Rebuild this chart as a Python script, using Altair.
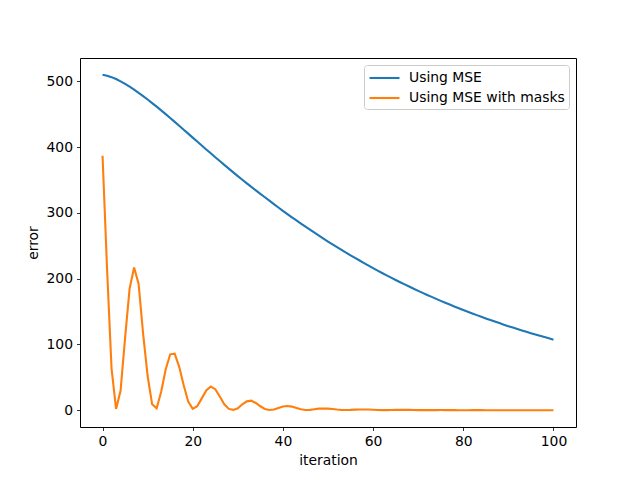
import altair as alt
import pandas as pd

iteration = list(range(101))

mse = [
    510.0, 508.6, 506.4, 503.5, 500.0, 496.2, 491.9, 487.4, 482.6, 477.6,
    472.4, 467.0, 461.5, 455.9, 450.1, 444.3, 438.4, 432.4, 426.5, 420.5,
    414.5, 408.5, 402.5, 396.5, 390.6, 384.7, 378.8, 373.0, 367.3, 361.6,
    356.0, 350.4, 344.9, 339.5, 334.2, 329.0, 323.8, 318.6, 313.4, 308.2,
    303.0, 298.1, 293.3, 288.5, 283.7, 279.0, 274.4, 269.9, 265.4, 260.9,
    256.5, 252.2, 248.0, 243.8, 239.6, 235.5, 231.5, 227.6, 223.7, 219.8,
    216.0, 212.3, 208.7, 205.1, 201.5, 198.0, 194.6, 191.3, 188.0, 184.7,
    181.5, 178.4, 175.3, 172.3, 169.3, 166.3, 163.4, 160.6, 157.8, 155.0,
    152.3, 149.7, 147.1, 144.6, 142.0, 139.5, 137.1, 134.8, 132.5, 130.1,
    127.8, 125.6, 123.5, 121.3, 119.2, 117.1, 115.1, 113.2, 111.2, 109.3,
    107.3,
]

mse_masks = [
    387.0, 215.0, 63.0, 2.0, 30.0, 110.0, 185.0, 217.0, 192.0, 116.0,
    52.0, 9.0, 3.0, 28.0, 62.0, 85.0, 86.0, 66.0, 38.0, 13.0,
    2.0, 6.0, 18.0, 30.0, 36.0, 32.0, 21.0, 9.0, 2.0, 0.5,
    3.0, 9.0, 13.5, 14.5, 11.0, 6.0, 2.0, 0.3, 1.0, 3.5,
    5.8, 6.5, 5.5, 3.5, 1.5, 0.4, 0.6, 1.5, 2.4, 2.7,
    2.5, 1.8, 1.0, 0.4, 0.3, 0.5, 0.9, 1.2, 1.2, 1.0,
    0.7, 0.4, 0.2, 0.2, 0.3, 0.5, 0.6, 0.6, 0.5, 0.3,
    0.2, 0.1, 0.1, 0.15, 0.2, 0.25, 0.2, 0.15, 0.1, 0.05,
    0.05, 0.05, 0.1, 0.1, 0.1, 0.05, 0.05, 0.05, 0.05, 0.05,
    0.05, 0.05, 0.05, 0.05, 0.05, 0.05, 0.05, 0.05, 0.05, 0.05,
    0.05,
]

series_names = ["Using MSE", "Using MSE with masks"]
colors = ["#1f77b4", "#ff7f0e"]
x_ticks = [0, 20, 40, 60, 80, 100]
y_ticks = [0, 100, 200, 300, 400, 500]

df = pd.concat([
    pd.DataFrame({"iteration": iteration, "error": mse, "series": series_names[0]}),
    pd.DataFrame({"iteration": iteration, "error": mse_masks, "series": series_names[1]}),
], ignore_index=True)

FONT = "DejaVu Sans"
FS = 13.9

chart = alt.Chart(df).mark_line(strokeWidth=2.1).encode(
    x=alt.X("iteration:Q",
            scale=alt.Scale(domain=[-5, 105], nice=False, zero=False),
            axis=alt.Axis(values=x_ticks, title="iteration", format="d")),
    y=alt.Y("error:Q",
            scale=alt.Scale(domain=[-25.5, 535.5], nice=False, zero=False),
            axis=alt.Axis(values=y_ticks, title="error", format="d")),
    color=alt.Color("series:N",
                    scale=alt.Scale(domain=series_names, range=colors),
                    legend=alt.Legend(title=None, orient="none", legendX=284, legendY=7,
                                      symbolType="M-1,0H3", symbolSize=225,
                                      symbolStrokeWidth=2.1,
                                      labelFont=FONT, labelFontSize=FS,
                                      labelColor="#000000", labelLimit=400,
                                      labelOffset=23,
                                      strokeColor="#cccccc", fillColor="#ffffff",
                                      cornerRadius=3, padding=4, rowPadding=4)),
    detail="series:N",
).properties(
    width=496, height=369,
    padding={"left": 72, "top": 50, "right": 56, "bottom": 45},
    autosize=alt.AutoSizeParams(type="none"),
).configure_view(
    stroke="#000000", strokeWidth=1,
).configure_axis(
    domain=False, grid=False,
    tickColor="#000000", tickSize=3.5, tickWidth=0.8,
    labelFont=FONT, labelFontSize=FS, labelColor="#000000", labelPadding=4,
    titleFont=FONT, titleFontSize=FS, titleColor="#000000", titleFontWeight="normal",
    titlePadding=5,
)

chart.save("out.html", embed_options={"renderer": "svg", "actions": False})
